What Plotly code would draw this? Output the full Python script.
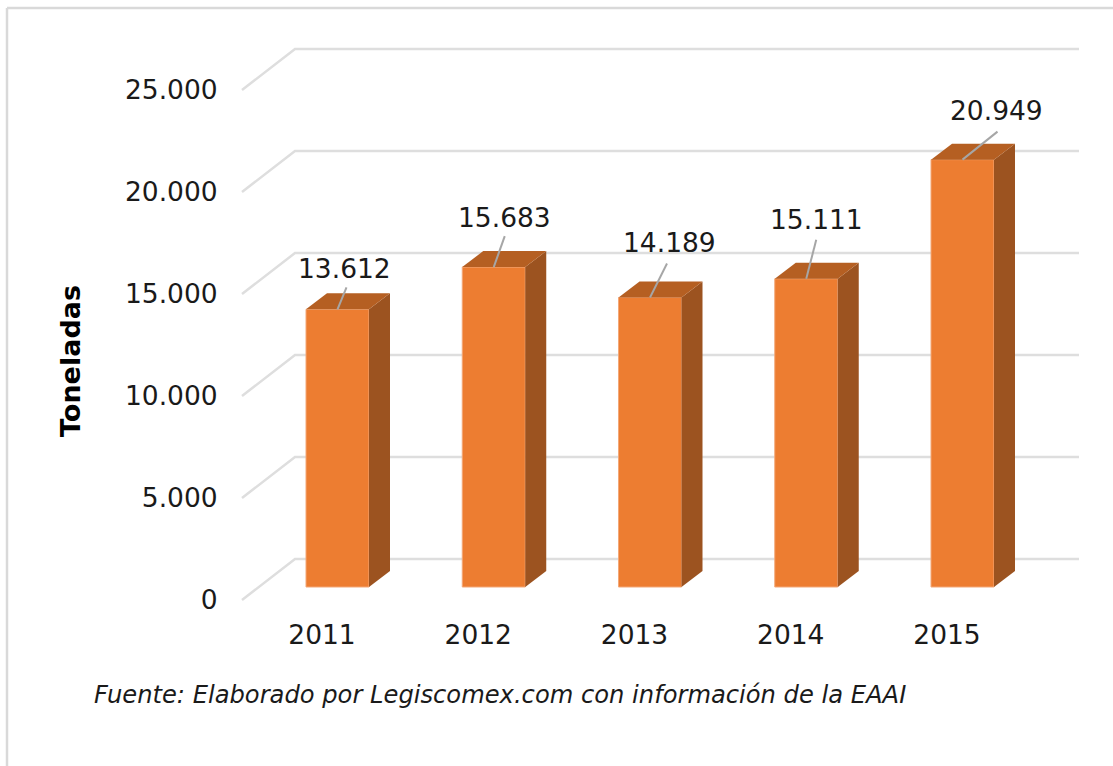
import plotly.graph_objects as go

# Data
years = ["2011", "2012", "2013", "2014", "2015"]
toneladas = [13612, 15683, 14189, 15111, 20949]
y_ticks = [0, 5000, 10000, 15000, 20000, 25000]
y_tick_labels = ["0", "5.000", "10.000", "15.000", "20.000", "25.000"]

# Pixel geometry of the pseudo-3D chart
W, H = 1113, 766
PLOT_L, PLOT_R, PLOT_T, PLOT_B = 235, 1085, 30, 610
PX_PER_UNIT = 102 / 5000        # vertical scale
PX_PER_CAT = 156.25             # horizontal scale
ZERO_PX = 600                   # y pixel of value 0 on the front wall
FIRST_TICK_PX = 322             # x pixel of first category tick

def ux(px):
    return (px - FIRST_TICK_PX) / PX_PER_CAT
def uy(px):
    return px / PX_PER_UNIT

x_range = [ux(PLOT_L), ux(PLOT_R)]
y_range = [-(PLOT_B - ZERO_PX) / PX_PER_UNIT, (ZERO_PX - PLOT_T) / PX_PER_UNIT]

bar_base = uy(13)               # front of bars stands 13 px above the wall's zero
bar_shift = ux(337.5)           # bar centres relative to ticks
bar_width = 63 / PX_PER_CAT
depth_x, depth_y = 21 / PX_PER_CAT, uy(16)
wall_dx = 53 / PX_PER_CAT
wall_dy = uy(41)
grid_left = ux(242)
grid_back = grid_left + wall_dx
grid_right = ux(1079)

GRID = "#dedede"
FRONT, SIDE, TOP = "#ED7D31", "#9C5320", "#B55F22"
TEXT = "#1a1a1a"
FONT = "DejaVu Sans"

fig = go.Figure()

centres = [i + bar_shift for i in range(len(years))]
fig.add_trace(go.Bar(
    x=centres, y=toneladas, base=bar_base, width=bar_width,
    marker=dict(color=FRONT, line=dict(width=1, color="#F3A878")),
    showlegend=False, hoverinfo="skip",
))

for c, v in zip(centres, toneladas):
    l, r = c - bar_width / 2, c + bar_width / 2
    top = v + bar_base
    fig.add_trace(go.Scatter(
        x=[r, r + depth_x, r + depth_x, r, r],
        y=[bar_base, bar_base + depth_y, top + depth_y, top, bar_base],
        mode="lines", fill="toself", fillcolor=SIDE, line=dict(width=0),
        showlegend=False, hoverinfo="skip",
    ))
    fig.add_trace(go.Scatter(
        x=[l, r, r + depth_x, l + depth_x, l],
        y=[top, top, top + depth_y, top + depth_y, top],
        mode="lines", fill="toself", fillcolor=TOP, line=dict(width=0),
        showlegend=False, hoverinfo="skip",
    ))

# Leader lines from bar tops towards the labels
leader_dx = [9, 11, 17, 10, 35]
leader_dy = [22, 31, 34, 39, 28]
lx, ly = [], []
for c, v, dx, dy in zip(centres, toneladas, leader_dx, leader_dy):
    lx += [c, c + dx / PX_PER_CAT, None]
    ly += [v + bar_base, v + bar_base + uy(dy), None]
fig.add_trace(go.Scatter(
    x=lx, y=ly, mode="lines", line=dict(color="#a6a6a6", width=2),
    showlegend=False, hoverinfo="skip",
))

shapes = []
for t in y_ticks:
    shapes.append(dict(
        type="path", layer="below", xref="x", yref="y",
        path=f"M {grid_left} {t} L {grid_back} {t + wall_dy} L {grid_right} {t + wall_dy}",
        line=dict(color=GRID, width=2.5),
    ))
# outer frame (top and left only)
for x0, y0, x1, y1 in [(7, 8, W, 8), (7, 8, 7, H)]:
    shapes.append(dict(
        type="line", xref="paper", yref="paper", layer="below",
        x0=(x0 - PLOT_L) / (PLOT_R - PLOT_L), x1=(x1 - PLOT_L) / (PLOT_R - PLOT_L),
        y0=(PLOT_B - y0) / (PLOT_B - PLOT_T), y1=(PLOT_B - y1) / (PLOT_B - PLOT_T),
        line=dict(color="#d9d9d9", width=2.5),
    ))

annotations = []
label_dx = [7, 11, 19, 10, 34]
label_dy = [41, 50, 55, 59, 49]
for c, v, dx, dy in zip(centres, toneladas, label_dx, label_dy):
    annotations.append(dict(
        x=c, y=v + bar_base, xref="x", yref="y", xshift=dx, yshift=dy,
        xanchor="center", yanchor="middle", showarrow=False,
        text=f"{v:,}".replace(",", "."),
        font=dict(family=FONT, size=26.5, color=TEXT),
    ))

annotations.append(dict(
    x=(70 - PLOT_L) / (PLOT_R - PLOT_L), y=(PLOT_B - 361) / (PLOT_B - PLOT_T),
    xref="paper", yref="paper", text="<b>Toneladas</b>", textangle=-90, showarrow=False,
    xanchor="center", yanchor="middle",
    font=dict(family=FONT, size=27, color="#000000"),
))
annotations.append(dict(
    x=(92 - PLOT_L) / (PLOT_R - PLOT_L), y=(PLOT_B - 695) / (PLOT_B - PLOT_T),
    xref="paper", yref="paper", xanchor="left", yanchor="middle", showarrow=False,
    text="<i>Fuente: Elaborado por Legiscomex.com con información de la EAAI</i>",
    font=dict(family=FONT, size=24.2, color=TEXT),
))

fig.update_layout(
    width=W, height=H,
    margin=dict(l=PLOT_L, r=W - PLOT_R, t=PLOT_T, b=H - PLOT_B, autoexpand=False),
    paper_bgcolor="white", plot_bgcolor="white",
    shapes=shapes, annotations=annotations, showlegend=False,
    font=dict(family=FONT, size=26.5, color=TEXT),
    xaxis=dict(
        range=x_range, tickmode="array", tickvals=list(range(len(years))), ticktext=years,
        showgrid=False, zeroline=False, showline=False, ticks="outside",
        ticklen=1, tickcolor="rgba(0,0,0,0)", tickfont=dict(family=FONT, size=26.5, color=TEXT),
    ),
    yaxis=dict(
        range=y_range, tickmode="array", tickvals=y_ticks, ticktext=y_tick_labels,
        showgrid=False, zeroline=False, showline=False, ticks="outside",
        ticklen=11, tickcolor="rgba(0,0,0,0)", tickfont=dict(family=FONT, size=26.5, color=TEXT),
    ),
)

fig.write_html("out.html", post_script="document.body.style.margin='0';",
               config={"displayModeBar": False})
